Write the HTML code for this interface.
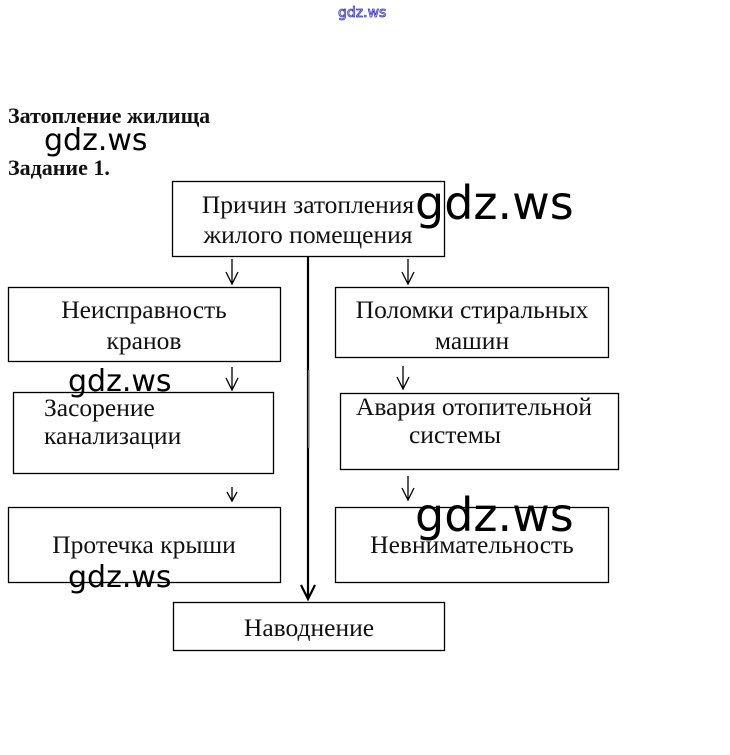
<!DOCTYPE html>
<html><head><meta charset="utf-8"><style>
html,body{margin:0;padding:0;background:#fff;width:730px;height:755px;overflow:hidden}
svg{display:block}
.t{font-family:"Liberation Serif",serif;font-size:25.5px;fill:#111}
.h{font-family:"Liberation Serif",serif;font-size:22px;font-weight:bold;fill:#111}
.w{font-family:"DejaVu Sans","Liberation Sans",sans-serif;fill:#000}
</style></head><body>
<svg width="730" height="755" viewBox="0 0 730 755">
<g fill="none" stroke="#000" stroke-width="1.3">
<rect x="172.5" y="181.5" width="272" height="75"/>
<rect x="8.5" y="287.5" width="272" height="74"/>
<rect x="335.5" y="287.5" width="273" height="70"/>
<rect x="13.5" y="392.5" width="260" height="81"/>
<rect x="340.5" y="393.5" width="278" height="76"/>
<rect x="8.5" y="507.5" width="272" height="75"/>
<rect x="335.5" y="507.5" width="273" height="75"/>
<rect x="173.5" y="602.5" width="271" height="48"/>
<path d="M308 257V598M301 585L308 599L315 585" stroke-width="2.2"/>
<path d="M232 259V283M226 272L232 284L238 272"/>
<path d="M232 367V389M226 378L232 390L238 378"/>
<path d="M232 487V500M227 492L232 501L237 492"/>
<path d="M408 259V283M402 272L408 284L414 272"/>
<path d="M403 366V388M397 377L403 389L409 377"/>
<path d="M408 476V499M402 488L408 500L414 488"/>
<path d="M309 370V448" stroke="#999" stroke-width="1.5"/>
</g>
<text class="h" x="8" y="123">Затопление жилища</text>
<text class="h" x="8" y="175">Задание 1.</text>
<g class="t" text-anchor="middle">
<text x="308" y="213">Причин затопления</text>
<text x="308" y="243">жилого помещения</text>
<text x="144" y="318">Неисправность</text>
<text x="144" y="349">кранов</text>
<text x="472" y="318">Поломки стиральных</text>
<text x="472" y="349">машин</text>
<text x="474" y="415">Авария отопительной</text>
<text x="455" y="443">системы</text>
<text x="144" y="553">Протечка крыши</text>
<text x="472" y="553">Невнимательность</text>
<text x="309" y="636">Наводнение</text>
</g>
<text class="t" x="44" y="416">Засорение</text>
<text class="t" x="44" y="444">канализации</text>
<text class="w" x="44" y="150" font-size="30">gdz.ws</text>
<text class="w" x="415" y="219" font-size="46">gdz.ws</text>
<text class="w" x="68" y="391" font-size="30">gdz.ws</text>
<text class="w" x="415" y="531" font-size="46">gdz.ws</text>
<text class="w" x="68" y="587" font-size="30">gdz.ws</text>
<text x="338" y="17" font-family="DejaVu Sans,sans-serif" font-size="14" fill="#fff" stroke="#33c" stroke-width="0.8">gdz.ws</text>
</svg>
</body></html>
